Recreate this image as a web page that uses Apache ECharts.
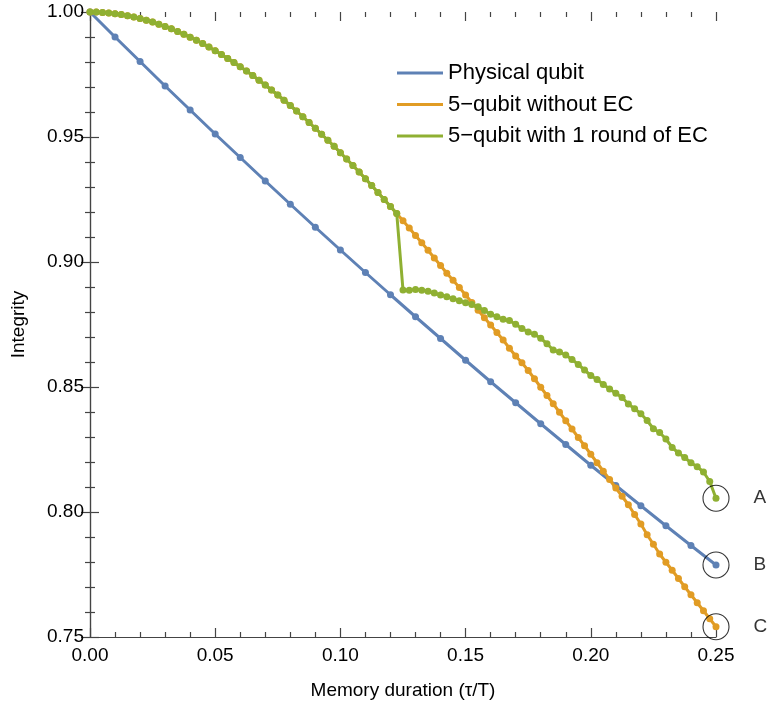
<!DOCTYPE html>
<html>
<head>
<meta charset="utf-8">
<script src="https://cdn.jsdelivr.net/npm/echarts@6/dist/echarts.min.js"></script>
<style>
html,body{margin:0;padding:0;background:#fff;}
#chart{width:768px;height:711px;}
</style>
</head>
<body>
<div id="chart"></div>
<script>
// Physical qubit, sampled every 0.01
const physStep = 0.01;
const physical = [1.0000,0.9900,0.9802,0.9704,0.9608,0.9512,0.9418,0.9324,0.9231,0.9139,
  0.9048,0.8958,0.8869,0.8781,0.8694,0.8607,0.8521,0.8437,0.8353,0.8270,
  0.8187,0.8106,0.8025,0.7945,0.7866,0.7788];

// 5-qubit without EC, sampled every 0.0025
const fineStep = 0.0025;
const noEC = [1.0000,1.0000,0.9998,0.9996,0.9993,0.9990,0.9985,0.9980,0.9974,0.9967,
  0.9960,0.9951,0.9942,0.9933,0.9922,0.9911,0.9899,0.9887,0.9874,0.9860,
  0.9845,0.9830,0.9814,0.9798,0.9781,0.9764,0.9746,0.9727,0.9708,0.9688,
  0.9668,0.9647,0.9626,0.9604,0.9581,0.9558,0.9535,0.9511,0.9487,0.9463,
  0.9437,0.9412,0.9386,0.9360,0.9333,0.9306,0.9278,0.9250,0.9222,0.9194,
  0.9165,0.9136,0.9106,0.9077,0.9047,0.9016,0.8986,0.8955,0.8927,0.8898,
  0.8868,0.8838,0.8807,0.8777,0.8748,0.8718,0.8688,0.8655,0.8624,0.8597,
  0.8566,0.8533,0.8499,0.8466,0.8433,0.8399,0.8365,0.8332,0.8298,0.8265,
  0.8231,0.8197,0.8163,0.8130,0.8096,0.8063,0.8029,0.7990,0.7952,0.7909,
  0.7871,0.7832,0.7799,0.7767,0.7734,0.7701,0.7669,0.7637,0.7605,0.7573,
  0.7541];

// 5-qubit with 1 round of EC: identical to noEC before the EC round (first 50 samples),
// then these values from t = 0.125 to 0.25
const ecBeforeCount = 50;
const withECAfter = [0.8888,0.8887,0.8890,0.8887,0.8883,0.8876,0.8868,0.8861,0.8853,0.8845,
  0.8837,0.8830,0.8821,0.8806,0.8791,0.8781,0.8771,0.8766,0.8751,0.8734,
  0.8720,0.8711,0.8695,0.8673,0.8648,0.8640,0.8628,0.8610,0.8590,0.8568,
  0.8546,0.8530,0.8510,0.8492,0.8475,0.8458,0.8432,0.8413,0.8393,0.8366,
  0.8333,0.8318,0.8292,0.8258,0.8236,0.8218,0.8197,0.8181,0.8160,0.8122,
  0.8055];
const withEC = noEC.slice(0, ecBeforeCount).concat(withECAfter);

const seriesNames = ['Physical qubit', '5\u2212qubit without EC', '5\u2212qubit with 1 round of EC'];
const markLabels = ['A', 'B', 'C'];
const xTickLabels = ['0.00','0.05','0.10','0.15','0.20','0.25'];
const yTickLabels = ['0.75','0.80','0.85','0.90','0.95','1.00'];

function pairs(vals, step) { return vals.map((v, i) => [+(i * step).toFixed(4), v]); }

const physData = pairs(physical, physStep);
const noECData = pairs(noEC, fineStep);
const withECData = pairs(withEC, fineStep);
const endMarks = [
  [withECData[withECData.length - 1][0], withEC[withEC.length - 1], markLabels[0]],
  [physData[physData.length - 1][0], physical[physical.length - 1], markLabels[1]],
  [noECData[noECData.length - 1][0], noEC[noEC.length - 1], markLabels[2]]
];

const FONT = 'Liberation Sans, Arial, sans-serif';
const AX = '#444444';
const colors = ['#5E81B5', '#E19C24', '#8FB032'];

const chart = echarts.init(document.getElementById('chart'), null, {renderer: 'canvas'});

function lineSeries(name, data, color, z) {
  return {
    name: name, type: 'line', data: data, z: z,
    symbol: 'circle', symbolSize: 7, showAllSymbol: true, clip: false,
    lineStyle: {color: color, width: 3},
    itemStyle: {color: color},
    emphasis: {disabled: true}
  };
}

chart.setOption({
  animation: false,
  textStyle: {fontFamily: FONT},
  grid: {left: 90, right: 52, top: 12, bottom: 74, containLabel: false},
  legend: {
    data: seriesNames, orient: 'vertical', left: 397, top: 62, padding: 0,
    icon: 'rect', itemWidth: 46, itemHeight: 3, itemGap: 9.5,
    textStyle: {fontSize: 22, lineHeight: 22, color: '#000', fontFamily: FONT},
    selectedMode: false
  },
  xAxis: [{
    type: 'value', min: 0, max: 0.25, interval: 0.05, position: 'bottom',
    name: 'Memory duration (\u03C4/T)', nameLocation: 'middle', nameGap: 44,
    nameTextStyle: {fontSize: 19, color: '#000', fontFamily: FONT},
    axisLine: {show: true, lineStyle: {color: AX, width: 1.2}},
    axisTick: {show: true, inside: true, length: 9, lineStyle: {color: AX, width: 1.2}},
    minorTick: {show: true, splitNumber: 5, length: 5, lineStyle: {color: AX, width: 1.2}},
    axisLabel: {fontSize: 19, color: '#000', margin: 9, fontFamily: FONT,
      formatter: (v) => xTickLabels[Math.round(v / 0.05)]},
    splitLine: {show: false}
  }, {
    type: 'value', min: 0, max: 0.25, interval: 0.05, position: 'top',
    axisLine: {show: false},
    axisTick: {show: true, inside: true, length: 9, lineStyle: {color: AX, width: 1.2}},
    minorTick: {show: true, splitNumber: 5, length: 5, lineStyle: {color: AX, width: 1.2}},
    axisLabel: {show: false}, splitLine: {show: false}
  }],
  yAxis: [{
    type: 'value', min: 0.75, max: 1.0, interval: 0.05, position: 'left',
    name: 'Integrity', nameLocation: 'middle', nameGap: 62, nameRotate: 90,
    nameTextStyle: {fontSize: 19, color: '#000', fontFamily: FONT},
    axisLine: {show: true, lineStyle: {color: AX, width: 1.2}},
    axisTick: {show: true, inside: true, length: 9, lineStyle: {color: AX, width: 1.2}},
    minorTick: {show: true, splitNumber: 5, length: 5, lineStyle: {color: AX, width: 1.2}},
    axisLabel: {fontSize: 19, color: '#000', margin: 6, fontFamily: FONT,
      formatter: (v) => yTickLabels[Math.round((v - 0.75) / 0.05)]},
    splitLine: {show: false}
  }, {
    type: 'value', min: 0.75, max: 1.0, interval: 0.05, position: 'right',
    axisLine: {show: true, lineStyle: {color: AX, width: 1.2}},
    axisTick: {show: true, inside: true, length: 9, lineStyle: {color: AX, width: 1.2}},
    minorTick: {show: true, splitNumber: 5, length: 5, lineStyle: {color: AX, width: 1.2}},
    axisLabel: {show: false}, splitLine: {show: false}
  }],
  series: [
    lineSeries(seriesNames[0], physData, colors[0], 2),
    lineSeries(seriesNames[1], noECData, colors[1], 3),
    lineSeries(seriesNames[2], withECData, colors[2], 4),
    {
      name: 'marks', type: 'scatter', data: endMarks, z: 6, clip: false, silent: true,
      symbol: 'circle', symbolSize: 26,
      itemStyle: {color: 'rgba(0,0,0,0)', borderColor: '#000', borderWidth: 1.1},
      label: {show: true, position: 'right', distance: 24, fontSize: 19, color: '#000',
        fontFamily: FONT, formatter: (p) => p.value[2]}
    }
  ]
});
</script>
</body>
</html>
